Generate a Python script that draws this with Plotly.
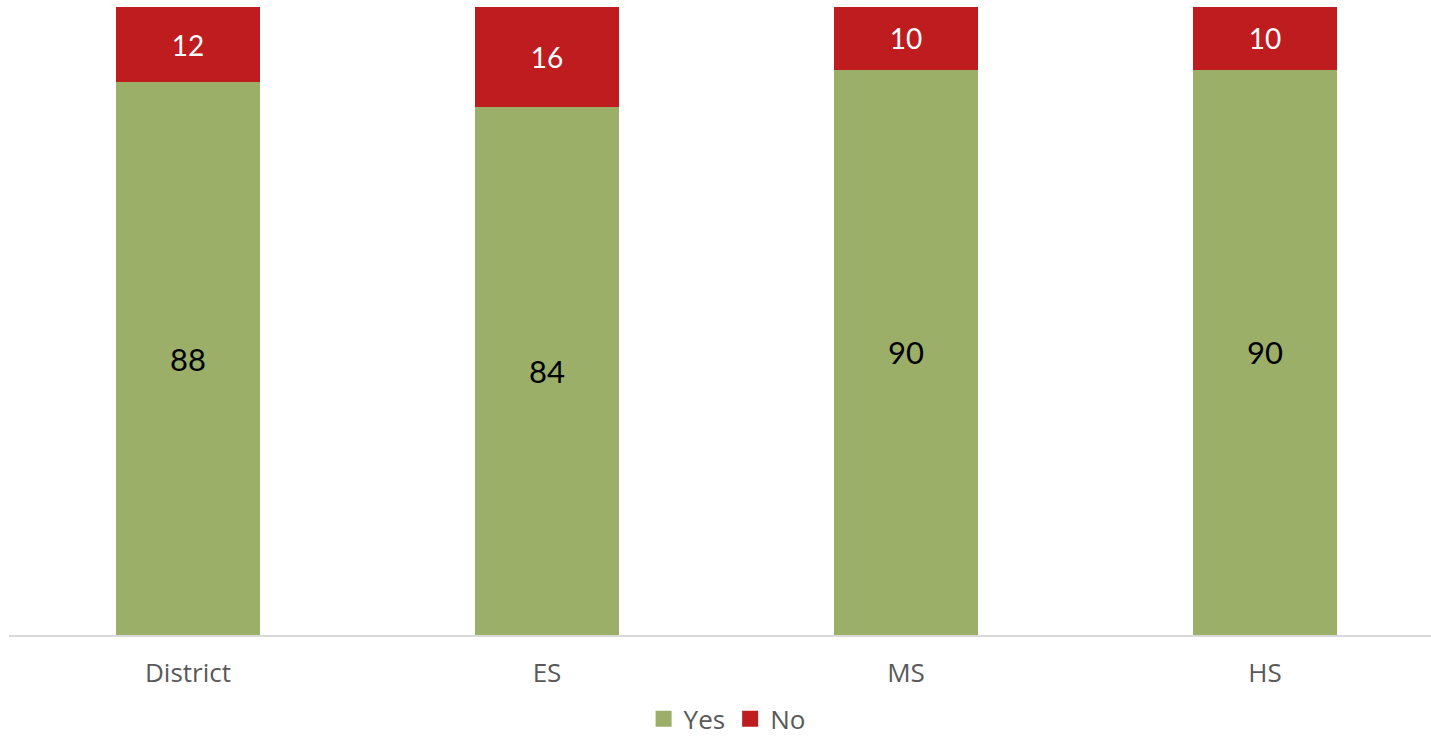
import plotly.graph_objects as go

# Survey responses by school level (percent)
categories = ["District", "ES", "MS", "HS"]
yes_values = [88, 84, 90, 90]
no_values = [12, 16, 10, 10]

GREEN = "#9BAF69"
RED = "#BE1C1E"

fig = go.Figure()

fig.add_trace(go.Bar(
    x=categories, y=yes_values, name="Yes",
    marker=dict(color=GREEN, line=dict(width=0)),
    text=yes_values, texttemplate="%{text}",
    textposition="inside", insidetextanchor="middle", textangle=0,
    constraintext="none",
    textfont=dict(family="Lato, Open Sans, sans-serif", size=31, color="#000000"),
    width=0.4, showlegend=False,
))
fig.add_trace(go.Bar(
    x=categories, y=no_values, name="No",
    marker=dict(color=RED, line=dict(width=0)),
    text=no_values, texttemplate="%{text}",
    textposition="inside", insidetextanchor="middle", textangle=0,
    constraintext="none",
    textfont=dict(family="Lato, Open Sans, sans-serif", size=28, color="#FFFFFF"),
    width=0.4, showlegend=False,
))

# Legend entries with larger square swatches
for name, color in [("Yes", GREEN), ("No", RED)]:
    fig.add_trace(go.Scatter(
        x=[None], y=[None], mode="markers", name=name,
        marker=dict(symbol="square", size=18, color=color),
        showlegend=True,
    ))

fig.update_layout(
    barmode="stack",
    width=1431, height=746,
    margin=dict(l=9, r=0, t=7, b=111, autoexpand=False),
    paper_bgcolor="white", plot_bgcolor="white",
    font=dict(family="Open Sans, sans-serif", color="#595959"),
    legend=dict(
        orientation="h", x=0.505, xanchor="center",
        yref="container", y=0.005, yanchor="bottom",
        traceorder="normal",
        font=dict(size=26, color="#595959"), itemsizing="trace",
        bgcolor="rgba(0,0,0,0)",
    ),
    xaxis=dict(
        range=[-0.4986, 3.4624],
        showline=True, linecolor="#D9D9D9", linewidth=2,
        showgrid=False, zeroline=False, ticks="",
        ticklabelstandoff=14,
        tickfont=dict(size=26, color="#595959"),
        fixedrange=True,
    ),
    yaxis=dict(
        range=[0, 100], visible=False, showgrid=False, zeroline=False,
        fixedrange=True,
    ),
)

fig.write_html("out.html", config={"displayModeBar": False})
